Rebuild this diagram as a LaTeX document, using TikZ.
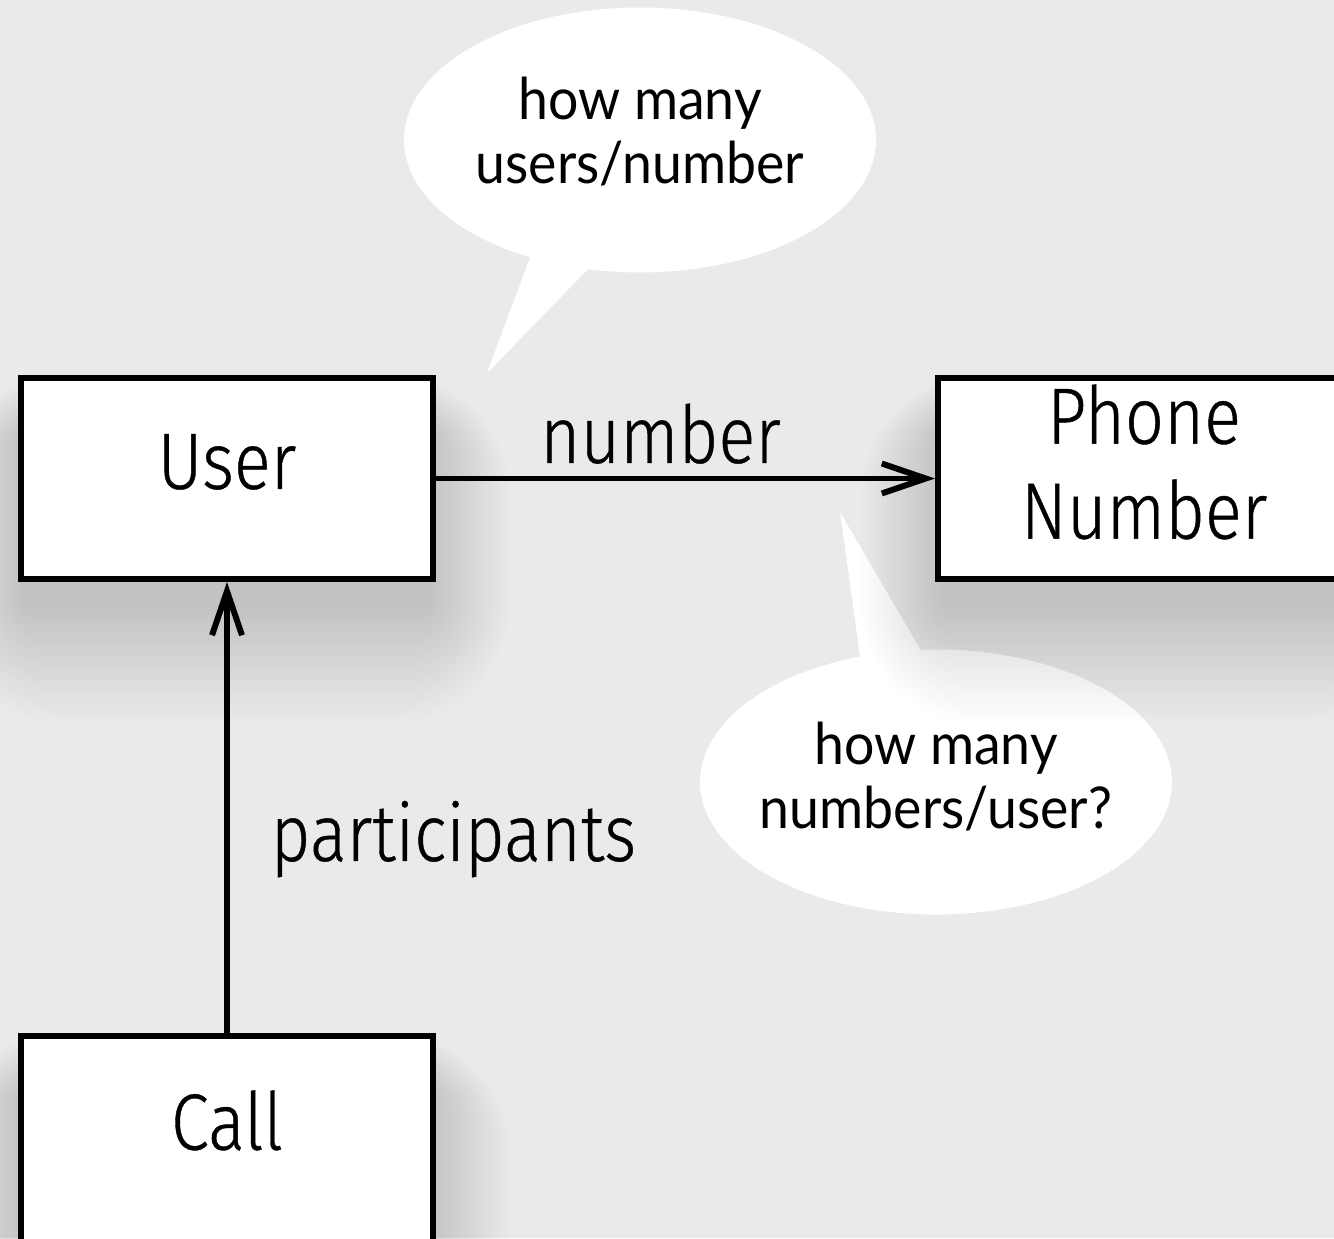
\documentclass[tikz,border=0pt]{standalone}
\usepackage{fontspec}
\setmainfont{Fira Sans Light}[FakeStretch=0.86, FakeBold=0.5]
\newfontfamily\notefont{Lato}[FakeStretch=0.93]
\usetikzlibrary{arrows.meta,shapes.callouts,calc,backgrounds}
\definecolor{bggray}{HTML}{EAEAEA}
\tikzset{
  classbox/.style={draw, line width=1.7pt, fill=white, minimum width=4.12cm, minimum height=2.01cm,
    inner ysep=0pt, align=center, font=\fontsize{22.7}{27}\selectfont, text depth=0.34cm},
  boxshadow/.style={fill=black, opacity=0.0075},
  assoc/.style={line width=1.7pt, -{Straight Barb[length=4.4mm, width=3mm]}},
  rolelabel/.style={font=\fontsize{22.7}{27}\selectfont},
  bubble/.style={ellipse callout, fill=white, minimum width=4.72cm, minimum height=2.65cm, inner sep=0pt},
  bubbletext/.style={align=center, font=\notefont\fontsize{16.4}{18.2}\selectfont},
}
\begin{document}
\begin{tikzpicture}
    \useasboundingbox (0, 0) rectangle (13.34, 12.38);

    % Classes
    \node[classbox] (user) at (2.27, 7.595) {User};
    \node[classbox] (phone) at (11.44, 7.595) {Phone\\Number};
    \node[classbox, minimum height=2.3cm, text depth=0.62cm] (call) at (2.27, 0.87) {Call};

    % Associations
    \draw[assoc] (user) -- (phone)
        node[pos=0.45, above, rolelabel] (numlabel) {number}
        coordinate[pos=0.81] (numpt);
    \draw[assoc] (call) -- (user)
        node[pos=0.43, right=0.29cm, rolelabel] (partlabel) {participants};

    % Questions and soft shadows, behind the boxes
    \begin{pgfonlayer}{background}
        \fill[bggray] (0, 0) rectangle (13.34, 12.38);
        \node[bubble, callout absolute pointer={($(user.north east)+(0.51,0.02)$)}] (q1) at (6.40, 10.98) {};
        \node[bubbletext] (q1text) at ($(q1.center)+(0,0.08)$) {how many\\users/number};

        \node[bubble, callout absolute pointer={($(numpt)+(0,-0.34)$)}] (q2) at (9.36, 4.56) {};
        \node[bubbletext] (q2text) at ($(q2.center)+(0,0.05)$) {how many\\numbers/user?};

        \foreach \b in {user, phone, call}
            \foreach \r in {0.06, 0.12, ..., 1.21}
                \fill[boxshadow, rounded corners=\r cm]
                    ($(\b.south west)+(0.1-0.7*\r, -0.2-\r)$) rectangle ($(\b.north east)+(0.7*\r-0.1, 0.5*\r-0.6)$);
    \end{pgfonlayer}
\end{tikzpicture}
\end{document}
